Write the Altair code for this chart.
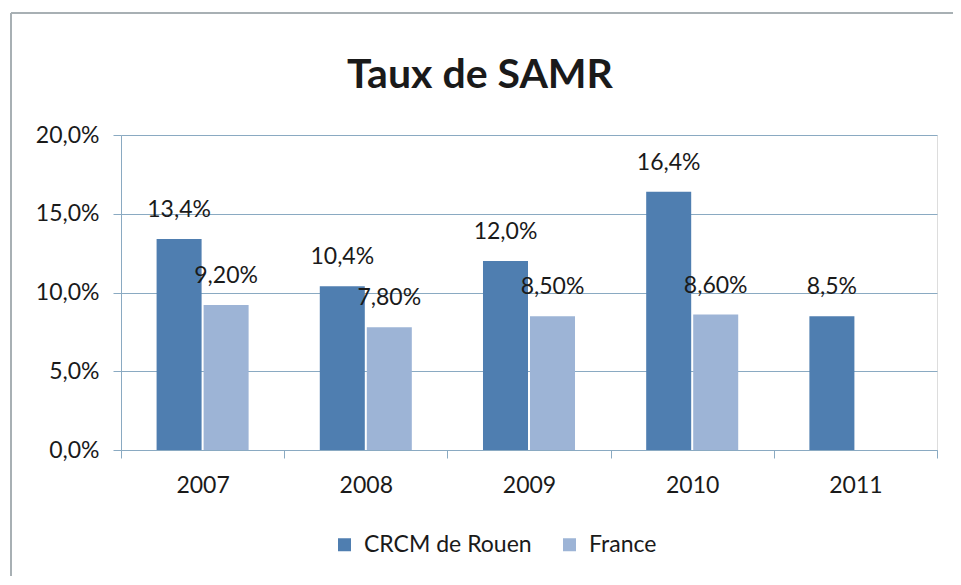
import altair as alt
import pandas as pd

years = ["2007", "2008", "2009", "2010", "2011"]
series = ["CRCM de Rouen", "France"]
crcm = [0.134, 0.104, 0.120, 0.164, 0.085]
france = [0.092, 0.078, 0.085, 0.086, None]
y_ticks = [0.0, 0.05, 0.10, 0.15, 0.20]
title_text = "Taux de SAMR"

rows = []
for yr, v in zip(years, crcm):
    rows.append({"annee": yr, "serie": series[0], "taux": v,
                 "label": f"{v*100:.1f}%".replace(".", ",")})
for yr, v in zip(years, france):
    if v is not None:
        rows.append({"annee": yr, "serie": series[1], "taux": v,
                     "label": f"{v*100:.2f}%".replace(".", ",")})
df = pd.DataFrame(rows)

FONT = "Lato"
TXT = "#1a1a1a"
GRID = "#8aaac2"
FS = 23

base = alt.Chart(df).encode(
    x=alt.X("annee:N", sort=years,
            scale=alt.Scale(paddingInner=0, paddingOuter=0),
            axis=alt.Axis(title=None, tickBand="extent", labelAngle=0,
                          tickSize=8, tickColor=GRID, domainColor=GRID,
                          labelPadding=16, labelFontSize=FS, labelFont=FONT,
                          labelColor=TXT, grid=False)),
    xOffset=alt.XOffset("serie:N", sort=series,
                        scale=alt.Scale(paddingInner=0.0426, paddingOuter=0.757)),
)

bars = base.mark_bar().encode(
    y=alt.Y("taux:Q", scale=alt.Scale(domain=[0, 0.2]),
            axis=alt.Axis(title=None, values=y_ticks,
                          labelExpr="replace(format(datum.value, '.1%'), '.', ',')",
                          tickSize=8, tickColor=GRID, domainColor=GRID,
                          gridColor=GRID, labelPadding=14, labelFontSize=FS,
                          labelFont=FONT, labelColor=TXT)),
    color=alt.Color("serie:N", sort=series,
                    scale=alt.Scale(domain=series, range=["#4f7eb0", "#9db4d6"]),
                    legend=alt.Legend(title=None, orient="none", direction="horizontal",
                                      legendX=212, legendY=398, padding=0,
                                      symbolType="square", symbolSize=169,
                                      symbolStrokeWidth=0, labelFontSize=FS,
                                      labelFont=FONT, labelColor=TXT, labelLimit=0,
                                      labelOffset=8, columnPadding=26)),
)

labels = base.mark_text(dy=-29, baseline="middle", fontSize=FS, font=FONT,
                        color=TXT).encode(y="taux:Q", text="label:N")

one = pd.DataFrame({"t": [title_text]})
title = alt.Chart(one).mark_text(fontSize=41, font=FONT, fontWeight="bold",
                                 color=TXT, baseline="alphabetic", align="center").encode(
    x=alt.value(359), y=alt.value(-47), text="t:N")

left_line = alt.Chart(one).mark_rule(color="#a8b0b4", strokeWidth=2).encode(
    x=alt.value(-110), y=alt.value(-122), y2=alt.value(460))
top_line = alt.Chart(one).mark_rule(color="#a8b0b4", strokeWidth=2).encode(
    x=alt.value(-110), x2=alt.value(840), y=alt.value(-122))

chart = alt.layer(left_line, top_line, title, bars, labels).properties(
    width=816, height=315,
    autosize=alt.AutoSizeParams(type="none"),
    padding={"left": 113, "top": 127, "right": 16, "bottom": 126},
).configure_view(stroke=None).configure(background="white")

chart.save("out.html", embed_options={"renderer": "svg", "actions": False})
